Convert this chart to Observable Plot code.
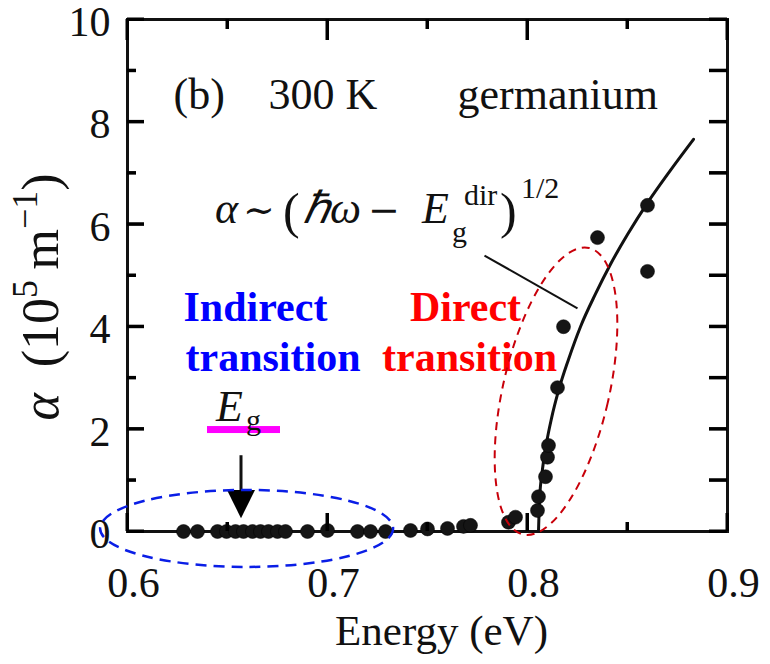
<!DOCTYPE html>
<html>
<head>
<meta charset="utf-8">
<script src="https://cdn.jsdelivr.net/npm/d3@7"></script>
<script src="https://cdn.jsdelivr.net/npm/@observablehq/plot@0.6"></script>
<style>
  body { margin: 0; background: #fff; }
  #chart { width: 770px; height: 664px; }
</style>
</head>
<body>
<div id="chart"></div>
<script>
// Absorption coefficient of germanium at 300 K (units of 1e5 m^-1) versus photon energy (eV)
const energy = [0.628, 0.635, 0.645, 0.6495, 0.654, 0.658, 0.6625, 0.6665, 0.6705, 0.675, 0.679,
  0.69, 0.70, 0.715, 0.7215, 0.729, 0.7415, 0.75, 0.76, 0.768, 0.7715, 0.7905, 0.794,
  0.805, 0.8055, 0.809, 0.81, 0.8105, 0.815, 0.818, 0.835, 0.86, 0.86];
const alpha = [0, 0, 0, 0, 0, 0, 0, 0, 0, 0, 0,
  0, 0.02, 0, 0, 0, 0.02, 0.05, 0.06, 0.1, 0.12, 0.18, 0.28,
  0.41, 0.68, 1.07, 1.45, 1.68, 2.81, 4.00, 5.74, 6.37, 5.08];

// Square-root law through the direct-gap onset
const fitEnergy = [0.8055, 0.806, 0.8075, 0.8095, 0.812, 0.8155, 0.8205, 0.8265, 0.834, 0.8415, 0.85, 0.86, 0.871, 0.883];
const fitAlpha = [0, 0.6, 1.22, 1.73, 2.21, 2.75, 3.36, 4.0, 4.64, 5.22, 5.8, 6.42, 7.03, 7.66];

// Axis ticks
const xMajor = [0.6, 0.7, 0.8, 0.9];
const xMinor = [0.65, 0.75, 0.85];
const yMajor = [0, 2, 4, 6, 8, 10];
const yMinor = [1, 3, 5, 7, 9];

// Indirect gap marker
const indirectGap = 0.657;

const points = energy.map((e, i) => ({energy: e, alpha: alpha[i]}));
const fit = fitEnergy.map((e, i) => ({energy: e, alpha: fitAlpha[i]}));

const serif = "'Liberation Serif', 'Times New Roman', serif";
const symbolFont = "'DejaVu Serif', serif";

// plot area and domains
const W = 770, H = 664;
const M = {left: 127, right: 43, top: 19, bottom: 133};
const xDomain = [0.6, 0.9];
const yDomain = [0, 10];
// data units per pixel, used to give the inward ticks a fixed pixel length
const xPerPx = (xDomain[1] - xDomain[0]) / (W - M.left - M.right);
const yPerPx = (yDomain[1] - yDomain[0]) / (H - M.top - M.bottom);

const tickStyle = {stroke: "#000", strokeWidth: 3};
const bottomTicks = (v, len) => Plot.ruleX(v, {x: d => d, y1: yDomain[0], y2: yDomain[0] + len * yPerPx, ...tickStyle});
const topTicks = (v, len) => Plot.ruleX(v, {x: d => d, y1: yDomain[1], y2: yDomain[1] - len * yPerPx, ...tickStyle});
const leftTicks = (v, len) => Plot.ruleY(v, {y: d => d, x1: xDomain[0], x2: xDomain[0] + len * xPerPx, ...tickStyle});
const rightTicks = (v, len) => Plot.ruleY(v, {y: d => d, x1: xDomain[1], x2: xDomain[1] - len * xPerPx, ...tickStyle});

// dashed ellipse around a group of points; centre in data units, radii in pixels
function ellipse({cx, cy, rx, ry, rotate = 0, stroke, strokeWidth, dash}) {
  return (index, {x, y}) => {
    const px = x(cx), py = y(cy);
    const g = d3.create("svg:g");
    g.append("ellipse")
      .attr("cx", px).attr("cy", py).attr("rx", rx).attr("ry", ry)
      .attr("transform", `rotate(${rotate} ${px} ${py})`)
      .attr("fill", "none")
      .attr("stroke", stroke)
      .attr("stroke-width", strokeWidth)
      .attr("stroke-dasharray", dash);
    return g.node();
  };
}

// y axis title with superscripts
function yTitle() {
  const cy = M.top + (H - M.top - M.bottom) / 2 + 22;
  const g = d3.create("svg:g");
  const t = g.append("text")
    .attr("transform", `translate(58,${cy}) rotate(-90)`)
    .attr("text-anchor", "middle")
    .attr("font-family", serif)
    .attr("font-size", 52)
    .attr("fill", "#111");
  t.append("tspan").attr("font-style", "italic").text("α");
  t.append("tspan").text("\u2002(10");
  t.append("tspan").attr("font-size", 36).attr("dy", -21).text("5");
  t.append("tspan").attr("dy", 21).text("\u2009m");
  t.append("tspan").attr("font-size", 36).attr("dy", -21).text("−1");
  t.append("tspan").attr("dy", 21).text(")");
  return g.node();
}

// fitted law written next to the curve
function formula(index, {x, y}) {
  const x0 = x(0.644), y0 = y(6.02);
  const g = d3.create("svg:g")
    .attr("font-family", serif)
    .attr("text-anchor", "start")
    .attr("fill", "#111");
  const put = (dx, dy, size, txt, italic, family) =>
    g.append("text")
      .attr("x", x0 + dx).attr("y", y0 + dy)
      .attr("font-size", size)
      .attr("font-style", italic ? "italic" : null)
      .attr("font-family", family || null)
      .text(txt);
  put(0, 0, 44, "α", true);
  put(28, 0, 38, "∼", false, symbolFont);
  put(68, 5, 50, "(", false);
  put(88, 0, 44, "ℏω", true);
  put(153, 0, 38, "−", false, symbolFont);
  put(207, 0, 44, "E", true);
  put(237, 19, 30, "g", false);
  put(249, -18, 30, "dir", false);
  put(285, 5, 50, ")", false);
  put(306, -25, 30, "1/2", false);
  return g.node();
}

// E_g label with magenta underline and arrow down to the absorption edge
function gapMarker(index, {x, y}) {
  const px = x(indirectGap);
  const g = d3.create("svg:g").attr("text-anchor", "start");
  g.append("rect")
    .attr("x", px - 34).attr("y", y(2.05))
    .attr("width", 73).attr("height", 7)
    .attr("fill", "#ff00ff");
  const t = g.append("text")
    .attr("font-family", serif)
    .attr("fill", "#111");
  t.append("tspan").attr("x", px - 25).attr("y", y(2.15))
    .attr("font-size", 44).attr("font-style", "italic").text("E");
  t.append("tspan").attr("x", px + 5).attr("y", y(1.98))
    .attr("font-size", 30).text("g");
  const top = y(1.48), neck = y(0.8), tip = y(0.25);
  g.append("line")
    .attr("x1", px).attr("x2", px).attr("y1", top).attr("y2", neck + 2)
    .attr("stroke", "#111").attr("stroke-width", 3);
  g.append("path")
    .attr("d", `M${px - 14},${neck}L${px + 14},${neck}L${px},${tip}Z`)
    .attr("fill", "#000");
  return g.node();
}

const chart = Plot.plot({
  width: W,
  height: H,
  marginLeft: M.left,
  marginRight: M.right,
  marginTop: M.top,
  marginBottom: M.bottom,
  style: {fontFamily: serif, fontSize: "42px", background: "#fff", color: "#111", overflow: "visible"},
  x: {domain: xDomain},
  y: {domain: yDomain},
  marks: [
    Plot.frame({stroke: "#111", strokeWidth: 3, fill: "none"}),
    // tick labels
    Plot.axisX(xMajor, {anchor: "bottom", tickSize: 0, tickPadding: 36, dx: 6, tickFormat: d3.format(".1f"), label: null, fontSize: 42}),
    Plot.axisY(yMajor, {anchor: "left", tickSize: 0, tickPadding: 17, dy: 3, tickFormat: d3.format("d"), label: null, fontSize: 42}),
    // axis titles
    Plot.text(["Energy (eV)"], {x: 0.757, y: 0, dy: 113, lineAnchor: "bottom", fontSize: 43, fill: "#111"}),
    yTitle,
    // panel header
    Plot.text([
      {x: 0.623, t: "(b)"},
      {x: 0.6705, t: "300 K"},
      {x: 0.765, t: "germanium"}
    ], {x: "x", y: () => 8.26, text: "t", textAnchor: "start", lineAnchor: "bottom", fontSize: 44, fill: "#111"}),
    // region labels
    Plot.text([
      {x: 0.628, y: 4.12, t: "Indirect"},
      {x: 0.629, y: 3.14, t: "transition"}
    ], {x: "x", y: "y", text: "t", textAnchor: "start", lineAnchor: "bottom", fontSize: 42, fontWeight: "bold", fill: "#0000ff"}),
    Plot.text([
      {x: 0.769, y: 4.12, t: "Direct"},
      {x: 0.771, y: 3.14, t: "transition"}
    ], {x: "x", y: "y", text: "t", textAnchor: "middle", lineAnchor: "bottom", fontSize: 42, fontWeight: "bold", fill: "#ff0000"}),
    // fitted curve and its label
    Plot.line(fit, {x: "energy", y: "alpha", curve: "monotone-x", stroke: "#111", strokeWidth: 3}),
    Plot.link([{x1: 0.7785, y1: 5.39, x2: 0.825, y2: 4.36}], {x1: "x1", y1: "y1", x2: "x2", y2: "y2", stroke: "#111", strokeWidth: 2}),
    formula,
    // measured points
    Plot.dot(points, {x: "energy", y: "alpha", r: 7, fill: "#151515", stroke: "#000", strokeWidth: 0.5}),
    gapMarker,
    ellipse({cx: 0.6598, cy: 0.05, rx: 146.5, ry: 38.5, stroke: "#0a1ee6", strokeWidth: 2.5, dash: "11 7"}),
    ellipse({cx: 0.8145, cy: 2.73, rx: 53, ry: 147, rotate: 13, stroke: "#c8000a", strokeWidth: 2, dash: "8 6"}),
    // inward ticks on all four sides
    bottomTicks(xMajor, 18), bottomTicks(xMinor, 9),
    topTicks(xMajor, 21), topTicks(xMinor, 10),
    leftTicks(yMajor, 17), leftTicks(yMinor, 9),
    rightTicks(yMajor, 18), rightTicks(yMinor, 18)
  ]
});

// second pass of inward ticks placed with the plot's own scales
{
  const sx = chart.scale("x"), sy = chart.scale("y");
  const left = M.left, right = W - M.right, top = M.top, bottom = H - M.bottom;
  const g = d3.select(chart).append("g")
    .attr("stroke", "#000").attr("stroke-width", 3).attr("fill", "none");
  const seg = (x1, y1, x2, y2) =>
    g.append("line").attr("x1", x1).attr("y1", y1).attr("x2", x2).attr("y2", y2);
  for (const v of xMajor) { const px = sx.apply(v); seg(px, bottom, px, bottom - 18); seg(px, top, px, top + 21); }
  for (const v of xMinor) { const px = sx.apply(v); seg(px, bottom, px, bottom - 9); seg(px, top, px, top + 10); }
  for (const v of yMajor) { const py = sy.apply(v); seg(left, py, left + 17, py); seg(right, py, right - 18, py); }
  for (const v of yMinor) { const py = sy.apply(v); seg(left, py, left + 9, py); seg(right, py, right - 18, py); }
}

document.getElementById("chart").appendChild(chart);
</script>
</body>
</html>
